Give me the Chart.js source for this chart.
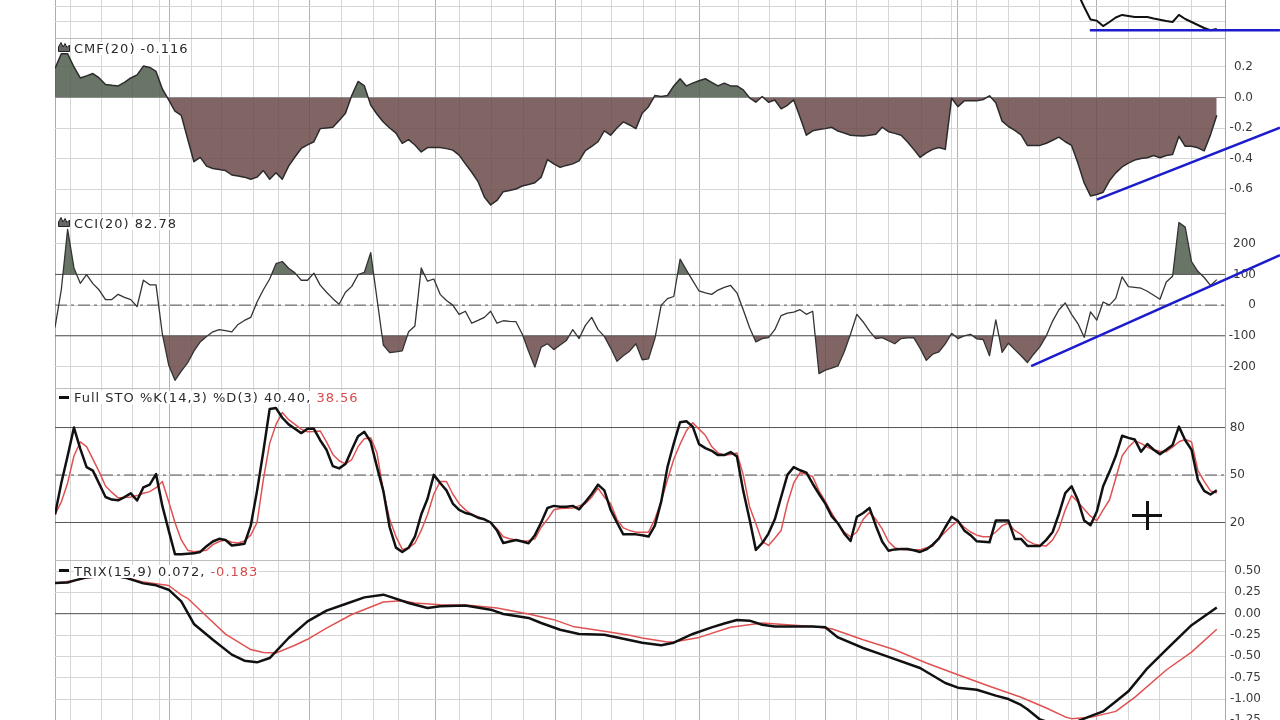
<!DOCTYPE html>
<html><head><meta charset="utf-8">
<script src="https://cdn.jsdelivr.net/npm/chart.js@4.4.1/dist/chart.umd.min.js"></script>
<style>
html,body{margin:0;padding:0;background:#fff;overflow:hidden;width:1280px;height:720px;position:relative;}
canvas{position:absolute;left:0;display:block;}
.lbl{position:absolute;left:74px;font-family:"DejaVu Sans";font-size:13px;letter-spacing:1px;line-height:13px;color:#2a2a2a;background:#fff;white-space:nowrap;}
.red{color:#d94a4a;}
.dash{position:absolute;left:59px;width:10px;height:3px;background:#111;}
.ico{position:absolute;left:58px;}
.cur{position:absolute;background:#111;}
</style></head><body>
<canvas id="cPrice" style="top:-100px"></canvas>
<canvas id="cCmf" style="top:38px"></canvas>
<canvas id="cCci" style="top:213px"></canvas>
<canvas id="cSto" style="top:388px"></canvas>
<canvas id="cTrix" style="top:560px"></canvas>

<svg class="ico" style="top:41px" width="12" height="11" viewBox="0 0 12 11"><path d="M0.5 10.5 L0.5 6 L3 1.5 L5 6 L7 2.5 L9 6.5 L11.5 4 L11.5 10.5 Z" fill="#666" stroke="#222" stroke-width="1"/></svg>
<div class="lbl" style="top:42px">CMF(20) -0.116</div>
<svg class="ico" style="top:216px" width="12" height="11" viewBox="0 0 12 11"><path d="M0.5 10.5 L0.5 6 L3 1.5 L5 6 L7 2.5 L9 6.5 L11.5 4 L11.5 10.5 Z" fill="#666" stroke="#222" stroke-width="1"/></svg>
<div class="lbl" style="top:217px">CCI(20) 82.78</div>
<div class="dash" style="top:396px"></div>
<div class="lbl" style="top:391px">Full STO %K(14,3) %D(3) 40.40, <span class="red">38.56</span></div>
<div class="dash" style="top:569px"></div>
<div class="lbl" style="top:565px">TRIX(15,9) 0.072, <span class="red">-0.183</span></div>

<div class="cur" style="left:1132px;top:514px;width:30px;height:3px"></div>
<div class="cur" style="left:1146px;top:501px;width:3px;height:29px"></div>

<script>
// ---------- data (x = trading-day index) ----------
const X_MAX = 185.3;
const gridDays  = [0,2.5,7.4,12.3,16.6,18.2,21.6,26.4,31.4,35.4,40.3,45.4,50.4,54.4,60.3,64.1,69.2,74.2,79.2,83.4,88.2,93.2,98.2,102.1,108.2,113.2,117.2,122,127,132,137.2,142,143,146,151,156,161,165,170,175,180];
const monthDays = [18.2,40.3,60.3,79.2,102.1,122,143,165];

const priceDays = [161,162,163,164,165,166,167,168,169,170,171,172,173,174,175,176,177,178,179,180,181,182,183,184];
const priceVals = [28.5,26.9,26.0,25.17,25.09,24.73,25.0,25.3,25.47,25.4,25.33,25.33,25.33,25.23,25.15,25.07,25.0,25.47,25.2,25.0,24.8,24.6,24.45,24.53];

const cmf = [0.19,0.287,0.287,0.20,0.128,0.142,0.157,0.128,0.085,0.08,
 0.076,0.099,0.128,0.148,0.206,0.197,0.171,0.056,-0.016,-0.089,
 -0.117,-0.27,-0.421,-0.392,-0.45,-0.465,-0.472,-0.479,-0.508,-0.515,
 -0.522,-0.536,-0.522,-0.479,-0.536,-0.493,-0.536,-0.45,-0.39,-0.334,
 -0.31,-0.29,-0.204,-0.2,-0.195,-0.15,-0.103,0.013,0.105,0.076,
 -0.05,-0.11,-0.16,-0.2,-0.233,-0.30,-0.276,-0.311,-0.357,-0.328,
 -0.328,-0.328,-0.335,-0.345,-0.378,-0.435,-0.49,-0.551,-0.652,-0.704,
 -0.675,-0.617,-0.61,-0.6,-0.58,-0.57,-0.559,-0.522,-0.407,-0.435,
 -0.458,-0.445,-0.435,-0.415,-0.348,-0.32,-0.29,-0.218,-0.247,-0.2,
 -0.16,-0.18,-0.204,-0.103,-0.06,0.013,0.007,0.013,0.076,0.123,
 0.076,0.094,0.11,0.123,0.099,0.076,0.094,0.076,0.076,0.05,
 -0.002,-0.031,0.007,-0.031,-0.016,-0.074,-0.051,-0.016,-0.13,-0.247,
 -0.218,-0.21,-0.204,-0.195,-0.22,-0.233,-0.247,-0.25,-0.253,-0.248,
 -0.241,-0.195,-0.224,-0.235,-0.247,-0.29,-0.34,-0.392,-0.363,-0.34,
 -0.328,-0.34,-0.005,-0.06,-0.022,-0.022,-0.022,-0.013,0.011,-0.034,
 -0.155,-0.19,-0.215,-0.245,-0.314,-0.314,-0.314,-0.3,-0.28,-0.26,
 -0.29,-0.314,-0.43,-0.56,-0.645,-0.636,-0.621,-0.546,-0.494,-0.455,
 -0.43,-0.41,-0.40,-0.395,-0.38,-0.395,-0.38,-0.374,-0.254,-0.32,
 -0.32,-0.33,-0.35,-0.245,-0.116];

const cci = [-73,50,247,121,71,99,70,49,18,18,
 35,25,18,-5,81,66,66,-94,-195,-245,
 -215,-188,-150,-120,-102,-87,-80,-83,-87,-63,
 -50,-40,10,50,85,135,142,120,105,81,
 81,104,65,42,21,3,42,61,99,107,
 171,20,-130,-155,-152,-149,-87,-68,121,78,
 85,35,15,0,-30,-20,-59,-50,-40,-20,
 -59,-51,-53,-54,-94,-150,-202,-137,-126,-145,
 -130,-115,-80,-109,-66,-40,-80,-102,-140,-183,
 -165,-150,-126,-178,-175,-110,-1,21,28,150,
 114,80,46,40,35,49,58,64,40,-15,
 -73,-120,-109,-106,-80,-34,-26,-23,-15,-30,
 -20,-223,-212,-205,-198,-152,-94,-30,-55,-85,
 -109,-106,-116,-126,-109,-107,-106,-140,-180,-160,
 -152,-126,-92,-109,-100,-95,-110,-112,-165,-48,
 -154,-124,-145,-165,-187,-160,-135,-100,-52,-15,
 7,-30,-60,-105,-22,-49,10,0,22,92,
 60,58,55,45,32,19,75,94,269,254,
 142,110,90,64,83];

const stoK = [25,45,62,80,66.7,55,52.8,44.5,36.1,34.5,
 34,36.1,38.4,33.9,42.2,43.9,50.6,30.5,15,0,
 0,0.3,0.5,1.4,5,8,9.7,8.9,5.5,6,
 6.5,18,40,65,91.8,92.3,86.2,82,79.2,76.5,
 79.2,79.2,72,66,55.6,54.2,57,66,74.5,77.3,
 70.9,55,40,17,4.1,1.4,4,11,25,35,
 50.1,45,40.3,32,28,26,25,23,22,20,
 15,7,8,8.9,8,6.9,12,20,29.2,30.5,
 30,30,30.5,28.3,33,38,43.9,40.3,28,20,
 12.5,12.5,12.5,12,11.1,18,33,55,70,83.4,
 84,80.6,69.5,67,65.3,62.6,62.6,64.5,61.7,40,
 22,2.7,6.9,13,22,36.1,50.1,55,53,51.5,
 44.5,38,31.9,24,19.4,13,8.3,23.6,26,29.2,
 18,8,2.2,3,3.3,3.3,2.5,1.4,3,6,
 10,17,23.6,21,15,12,8.1,7.8,7.5,21.2,
 21.2,21.2,9.6,9.6,5.2,5.2,5.2,9,14,25.5,
 38.6,42.9,34.2,21.2,18.3,26.9,42.9,52,62,74.8,
 73.5,72.5,64.7,69.6,66,63.2,66,69,80.6,72,
 66,47,40,37.7,40.4];

const stoD = [25,33,45,62,70.9,68,60,52,43.1,39,
 35.6,35.8,36.1,37,38.5,39.5,42,45.9,33.3,20,
 9,2.5,1.5,2,2.5,6,8,8.9,7.5,7,
 8.3,12,20,47.3,70,82,89.5,85,82,79,
 77.3,77.5,77.9,71,63,59,57,59.8,68,73,
 73.5,63.9,40,22,11.1,3,4,7,15,25,
 38,45.9,45.9,38,31.9,28,25,23.6,22,20,
 16,11,9.7,9,8.3,8.5,9.7,17,22,28,
 28.8,29,29.2,30.5,32,36,41.7,36,31.9,22,
 16.6,15,13.9,13.9,13.9,22,33.3,47,60,69.5,
 78,83,79,75.1,68,64,62.6,63,63.9,50.1,
 30,19.4,8,5.5,10,15,32,45,51.5,50.5,
 49,40,33.3,26,19.4,14,11,14,22,26.4,
 22,16,8,4.1,3,2.7,2.7,2.7,4,4.9,
 10,14,18,20.8,17,14,12,11,11,14,
 18,19.5,15,12.5,8.5,6.5,5.5,5.2,9,16,
 28,37.1,33,28.4,24,21.2,28,34.2,48,62,
 67.6,71.5,70,67.6,66,65,64.7,67.6,71,72.5,
 71,53,46,40,38.6];

const trixDays = [0,2,3,5,7,9,11,14,16,18,20,22,25,28,30,32,34,37,40,43,46,49,52,53,56,59,61,65,69,71,75,77,80,83,87,90,93,96,98,101,104,106,108,110,112,114,120,122,124,128,131,137,141,143,146,149,151,153,154,156,158,160,162,164,166,168,170,173,176,180,184];
const trixVals = [0.36,0.365,0.387,0.425,0.44,0.449,0.425,0.355,0.332,0.281,0.144,-0.12,-0.305,-0.48,-0.551,-0.57,-0.52,-0.285,-0.09,0.035,0.114,0.191,0.223,0.2,0.125,0.067,0.086,0.097,0.047,-0.004,-0.05,-0.109,-0.188,-0.238,-0.246,-0.293,-0.34,-0.371,-0.34,-0.238,-0.16,-0.115,-0.074,-0.082,-0.129,-0.149,-0.149,-0.16,-0.278,-0.402,-0.48,-0.636,-0.812,-0.867,-0.891,-0.96,-1.0,-1.07,-1.12,-1.24,-1.29,-1.29,-1.26,-1.2,-1.145,-1.03,-0.91,-0.64,-0.42,-0.135,0.072];
const sigDays = [0,3,5,9,12,14,18,20,21,24,27,29,31,33,35,38,40,43,47,52,55,57,61,66,70,75,79,82,87,91,93,97,98,102,107,112,116,120,123,128,133,138,143,148,153,157,160,161,164,168,171,176,180,184];
const sigVals = [0.36,0.387,0.42,0.44,0.41,0.37,0.33,0.22,0.18,-0.03,-0.24,-0.33,-0.42,-0.455,-0.46,-0.37,-0.3,-0.17,-0.01,0.137,0.152,0.125,0.105,0.097,0.067,-0.004,-0.07,-0.149,-0.207,-0.254,-0.285,-0.332,-0.332,-0.278,-0.16,-0.109,-0.129,-0.149,-0.176,-0.305,-0.422,-0.578,-0.715,-0.85,-0.98,-1.105,-1.21,-1.23,-1.215,-1.145,-0.98,-0.66,-0.45,-0.183];

// trend lines drawn by the analyst (day, value)
const priceTrendDays = [163.9,194], priceTrendVals = [24.45,24.45];
const cmfTrendDays = [165,194],     cmfTrendVals = [-0.669,-0.197];
const cciTrendDays = [154.6,194],   cciTrendVals = [-199,163];

// axis ticks / reference levels
const priceGrid = [25,26,27,28,29,30,31,32,33];
const cmfTicks = [0.2,0,-0.2,-0.4,-0.6];
const cciTicks = [200,100,0,-100,-200];
const cciBands = [100,-100];
const stoTicks = [80,50,20];
const stoBands = [80,20];
const trixTicks = [0.5,0.25,0,-0.25,-0.5,-0.75,-1,-1.25,-1.5,-1.75];

// ---------- helpers ----------
const idx = a => a.map((_, i) => i);
const pts = (xs, ys) => xs.map((x, i) => ({x, y: ys[i]}));
const GRIDC = '#d6d6d6', MONTHC = '#b2b2b2', BORDERC = '#bdbdbd';
const POS = 'rgba(80,94,78,0.86)', NEG = 'rgba(108,76,76,0.86)';
const AXIS_SPACE = 55; // from plot right edge to the window edge

function line(xs, ys, color, width, extra) {
  return Object.assign({data: pts(xs, ys), borderColor: color, borderWidth: width,
    pointRadius: 0, fill: false, tension: 0, order: 0, borderJoinStyle: 'round'}, extra || {});
}
function level(v, color, dash) {
  return {data: [{x: 0, y: v}, {x: X_MAX, y: v}], borderColor: color, borderWidth: 1,
    borderDash: dash || [], pointRadius: 0, fill: false, order: 1};
}

function make(id, h, axisW, yMin, yMax, gridTicks, labelTicks, fmt, datasets) {
  const cv = document.getElementById(id);
  cv.width = 1280; cv.height = h;
  return new Chart(cv, {
    type: 'line',
    data: {datasets},
    options: {
      responsive: false, animation: false, devicePixelRatio: 1, events: [],
      layout: {padding: {left: 55, right: AXIS_SPACE - axisW, top: 0, bottom: 0}},
      plugins: {legend: {display: false}, tooltip: {enabled: false}},
      scales: {
        x: {type: 'linear', min: 0, max: X_MAX,
          afterBuildTicks: s => { s.ticks = gridDays.map(v => ({value: v})); },
          afterFit: s => { s.height = 0; s.paddingLeft = 0; s.paddingRight = 0; },
          ticks: {display: false},
          grid: {drawTicks: false, lineWidth: 1,
            color: c => (c.tick && monthDays.includes(c.tick.value)) ? MONTHC : (c.tick && c.tick.value === 0 ? '#acacac' : GRIDC)},
          border: {display: false}},
        y: {position: 'right', min: yMin, max: yMax,
          afterBuildTicks: s => { s.ticks = gridTicks.concat([yMax]).map(v => ({value: v})); },
          afterFit: s => { s.width = axisW; s.paddingTop = 0; s.paddingBottom = 0; },
          ticks: {display: !!labelTicks, padding: 4, crossAlign: 'far', autoSkip: false,
            color: '#3a3a3a', font: {family: 'DejaVu Sans', size: 12},
            callback: v => (labelTicks && labelTicks.includes(v)) ? fmt(v) : ''},
          grid: {drawTicks: false, color: c => (c.tick && c.tick.value === yMax) ? BORDERC : GRIDC},
          border: {display: true, color: '#a8a8a8'}}
      }
    }
  });
}

// ---------- price strip (top) ----------
make('cPrice', 138, 28, 23.933, 33.13, priceGrid, null, v => v, [
  line(priceTrendDays, priceTrendVals, '#1c1ccc', 2.5, {clip: false, order: -1}),
  line(priceDays, priceVals, '#111', 2)
]);

// ---------- CMF ----------
make('cCmf', 175, 28, -0.757, 0.39, cmfTicks, cmfTicks, v => v.toFixed(1), [
  line(cmfTrendDays, cmfTrendVals, '#1c1ccc', 2.5, {clip: false, order: -1}),
  line(idx(cmf), cmf, '#2b2b2b', 1.5),
  level(0, '#8c8c8c'),
  line(idx(cmf), cmf, 'rgba(0,0,0,0)', 0, {order: 2, fill: {target: 'origin', above: POS, below: NEG}})
]);

// ---------- CCI ----------
make('cCci', 175, 31, -270, 300, cciTicks, cciTicks, v => String(v), [
  line(cciTrendDays, cciTrendVals, '#1c1ccc', 2.5, {clip: false, order: -1}),
  line(idx(cci), cci, '#333', 1.3),
  level(cciBands[0], '#555'),
  level(cciBands[1], '#555'),
  level(0, '#555', [12, 4, 3, 4]),
  line(idx(cci), cci, 'rgba(0,0,0,0)', 0, {order: 2, fill: {target: {value: cciBands[0]}, above: POS, below: 'rgba(0,0,0,0)'}}),
  line(idx(cci), cci, 'rgba(0,0,0,0)', 0, {order: 2, fill: {target: {value: cciBands[1]}, above: 'rgba(0,0,0,0)', below: NEG}})
]);

// ---------- Full STO ----------
make('cSto', 172, 20, -3.7, 105, stoTicks, stoTicks, v => String(v), [
  line(idx(stoK), stoK, '#111', 2.5, {order: -1}),
  line(idx(stoD), stoD, '#e05252', 1.5, {order: 0}),
  level(stoBands[0], '#555'),
  level(stoBands[1], '#555'),
  level(50, '#555', [12, 4, 3, 4])
]);

// ---------- TRIX ----------
make('cTrix', 220, 36, -1.949, 0.629, trixTicks, trixTicks, v => v.toFixed(2), [
  line(trixDays, trixVals, '#111', 2.5, {order: -1}),
  line(sigDays, sigVals, '#e05252', 1.5, {order: 0}),
  level(0, '#555')
]);
</script>
</body></html>
